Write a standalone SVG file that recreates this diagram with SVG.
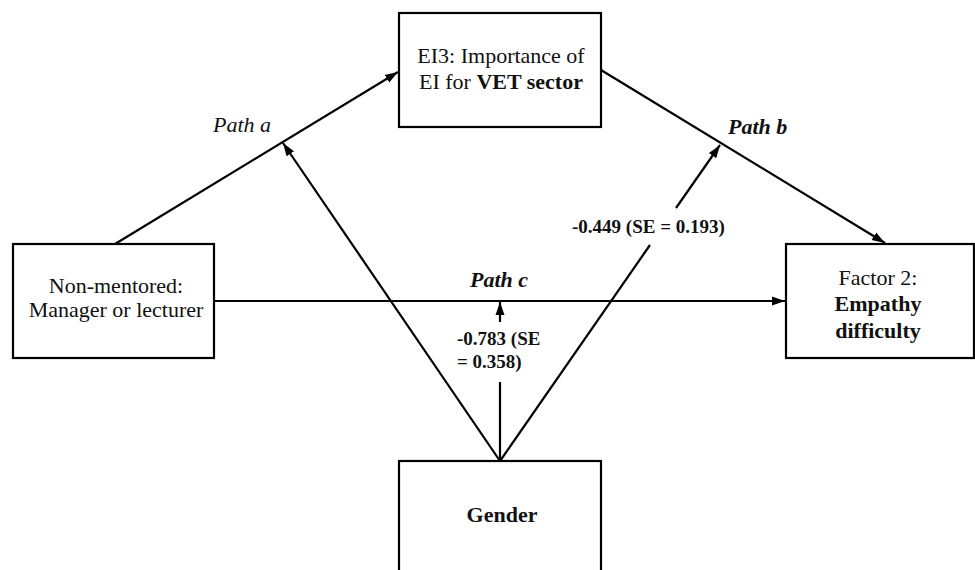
<svg xmlns="http://www.w3.org/2000/svg" width="975" height="570" viewBox="0 0 975 570">
<style>
.box{fill:#fff;stroke:#000;stroke-width:2.2}
.t{font-family:"Liberation Serif","Times New Roman",serif;font-size:22px;fill:#111;text-anchor:middle}
.b{font-weight:bold}
.lbl{font-family:"Liberation Serif","Times New Roman",serif;font-size:19px;font-weight:bold;fill:#111}
.pl{font-family:"Liberation Serif","Times New Roman",serif;font-size:22px;font-style:italic;fill:#111}
.c{stroke:#000;stroke-width:2.2;fill:none}
</style>
<defs>
<marker id="ah" markerUnits="userSpaceOnUse" markerWidth="14" markerHeight="10" refX="13" refY="5" orient="auto">
<path d="M0,0.5 L13,5 L0,9.5 z" fill="#000"/>
</marker>
</defs>
<rect width="975" height="570" fill="#fff"/>
<g id="connectors">
<line class="c" x1="115" y1="244" x2="398" y2="72" marker-end="url(#ah)"/>
<line class="c" x1="601" y1="70" x2="885" y2="243" marker-end="url(#ah)"/>
<line class="c" x1="214" y1="301" x2="785" y2="301" marker-end="url(#ah)"/>
<line class="c" x1="500" y1="461" x2="283" y2="143" marker-end="url(#ah)"/>
<line class="c" x1="500" y1="461" x2="650" y2="245"/>
<line class="c" x1="676" y1="208" x2="720" y2="145" marker-end="url(#ah)"/>
<line class="c" x1="500" y1="461" x2="500" y2="382"/>
<line class="c" x1="500" y1="322" x2="500" y2="302" marker-end="url(#ah)"/>
<text class="pl" x="213" y="132">Path a</text>
<text class="pl b" x="728" y="134">Path b</text>
<text class="pl b" x="470" y="287">Path c</text>
<text class="lbl" x="572" y="233">-0.449 (SE = 0.193)</text>
<text class="lbl" x="457" y="345">-0.783 (SE</text>
<text class="lbl" x="457" y="368">= 0.358)</text>
</g>
<g id="ei3">
<rect class="box" x="399" y="13" width="202" height="114"/>
<text class="t" x="501" y="63">EI3: Importance of</text>
<text class="t" x="501" y="89">EI for <tspan class="b">VET sector</tspan></text>
</g>
<g id="nonmentored">
<rect class="box" x="13" y="244" width="201" height="114"/>
<text class="t" x="116" y="293">Non-mentored:</text>
<text class="t" x="116" y="317">Manager or lecturer</text>
</g>
<g id="factor2">
<rect class="box" x="786" y="244" width="188" height="114"/>
<text class="t" x="878" y="285">Factor 2:</text>
<text class="t b" x="878" y="311">Empathy</text>
<text class="t b" x="878" y="338">difficulty</text>
</g>
<g id="gender">
<rect class="box" x="399" y="461" width="202" height="130"/>
<text class="t b" x="502" y="522">Gender</text>
</g>
</svg>
